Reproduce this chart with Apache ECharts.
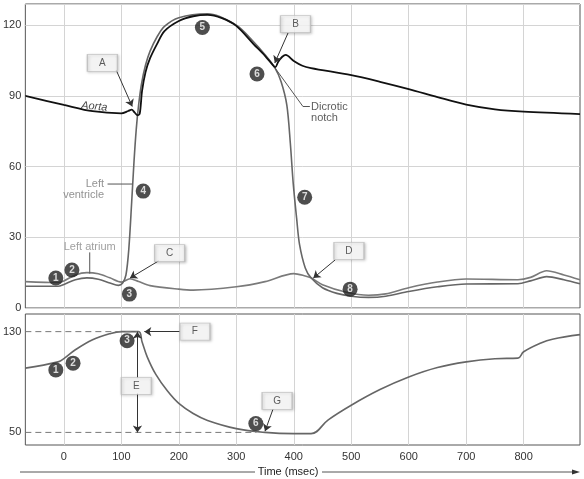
<!DOCTYPE html>
<html><head><meta charset="utf-8">
<script src="https://cdn.jsdelivr.net/npm/echarts@6/dist/echarts.min.js"></script>
<style>html,body{margin:0;padding:0;background:#fff}#c{width:584px;height:479px}</style>
</head><body><div id="c"></div>
<script>
// ---- data ----
const xTicks = [0,100,200,300,400,500,600,700,800];
const aorta = [[-67,90],[0,86.2],[50,83.5],[100,82.6],[112,83.6],[118,84.2],[123,83],[128,81.8],[132,82.5],[136,92],[142,100],[150,106],[162,112],[175,117.5],[200,121.8],[225,123.8],[250,124.4],[275,123],[300,119.7],[330,112],[350,107],[364,103],[368,102.2],[373,104.5],[380,106.6],[386,107.4],[400,104.8],[415,102.8],[430,101.8],[500,98.8],[550,96],[600,92.9],[650,89.5],[700,86.3],[750,84.3],[800,83.3],[898,82.3]];
const ventricle = [[-67,9.2],[-10,9.2],[0,10],[20,12],[40,12.8],[60,12.2],[80,10.6],[95,9.6],[102,10.5],[108,14],[113,25],[118,45],[122,62],[126,76],[130,86],[135,95],[142,103],[150,109],[162,115],[175,119.5],[200,123.2],[250,124.8],[300,120],[330,113],[350,107.5],[367,102],[378,96],[388,86],[394,70],[399,53],[405,38],[410,27],[420,17],[430,12.8],[450,8.6],[475,6.2],[500,5],[530,4.5],[560,5],[600,7],[650,9],[700,10.2],[790,10.3],[812,11.5],[840,13.3],[870,12],[898,10.3]];
const atrium = [[-67,11.2],[-10,10.8],[0,11.5],[20,14],[40,15],[60,14.5],[80,12.8],[100,11],[115,12.4],[130,11.2],[150,9.5],[200,8],[225,7.6],[300,9],[350,11.2],[400,14.6],[420,13.6],[430,12.8],[450,9.9],[490,6.8],[530,5.4],[560,6],[600,8.6],[650,11],[700,12.3],[790,12],[812,13],[840,15.8],[870,14],[898,12]];
const volume = [[-67,101],[-10,106],[0,108.5],[20,115.6],[50,123.6],[80,128.4],[100,130],[130,130],[136,122],[145,110],[160,96],[180,83],[200,73],[225,65],[250,59.5],[300,53],[350,50],[400,49],[430,49],[460,60],[500,71.6],[550,84],[600,94],[650,101.5],[700,106],[750,108.5],[790,109],[800,114],[830,121],[850,124],[898,127.6]];
const topCircles = [[-14,12.7,'1'],[14,16.1,'2'],[114,5.9,'3'],[138,49.6,'4'],[241,119,'5'],[336,99.3,'6'],[419,47,'7'],[498,8,'8']];
const botCircles = [[-14,99.6,'1'],[16,105,'2'],[110,122.8,'3'],[334,57,'6']];
const topBoxes = [[67,104,'A'],[403,120.5,'B'],[184,23.3,'C'],[496,24.2,'D']];
const botBoxes = [[228,130,'F'],[126,87,'E'],[371,75,'G']];
const topArrows = [[[91,101],[119,85.5]],[[390,116.7],[367,104]],[[165,20],[115,12.7]],[[472,20.4],[434,12.7]]];
const topLeaders = [[[367,102],[416,85.5],[428,85.5]],[[76,52.6],[119,52.6]],[[45,23.6],[45,14.6]]];
const botArrows = [[[202,130],[140,130]],[[364,68.6],[350,51]],[[128,93],[128,130]],[[128,81],[128,50]]];
const dashes = [[[-67,130],[130,130]],[[-67,50],[335,50]]];
const texts = [
 [53,85.5,'Aorta','aorta'],[70,52.6,'Left','lvr'],[70,48,'ventricle','lvr'],[45,25.8,'Left atrium','la'],
 [430,85.5,'Dicrotic','dn'],[430,80.8,'notch','dn']];

const chart = echarts.init(document.getElementById('c'));
const gridLine = {show:true,lineStyle:{color:'#d4d4d4',width:1}};
const F = 'Liberation Sans, Arial, sans-serif';
function lineS(data,color,w,xi,sm){return {type:'line',xAxisIndex:xi,yAxisIndex:xi,data,showSymbol:false,smooth:sm||0.3,lineStyle:{color,width:w},z:5,silent:true};}
function circles(data,xi){return {type:'scatter',xAxisIndex:xi,yAxisIndex:xi,data,symbolSize:15,itemStyle:{color:'#222'},z:10,
 label:{show:true,position:'inside',formatter:p=>p.data[2],color:'#fff',fontWeight:'bold',fontSize:10,fontFamily:F}};}
function boxes(data,xi){return {type:'scatter',xAxisIndex:xi,yAxisIndex:xi,data,symbol:'rect',symbolSize:[30,17],
 itemStyle:{color:'#fff',borderColor:'#bbb',borderWidth:1,shadowColor:'rgba(0,0,0,0.3)',shadowBlur:3,shadowOffsetX:1,shadowOffsetY:1},z:10,
 label:{show:true,position:'inside',formatter:p=>p.data[2],color:'#333',fontSize:10,fontFamily:F}};}
function lns(data,xi,arrow,color,dash){return {type:'lines',coordinateSystem:'cartesian2d',xAxisIndex:xi,yAxisIndex:xi,polyline:!arrow,
 data:data.map(c=>({coords:c})),symbol:arrow?['none','arrow']:['none','none'],symbolSize:7,
 lineStyle:{color,width:1,type:dash?[6,4]:'solid',opacity:1},z:8,silent:true};}
const styles = {aorta:{color:'#111',fontStyle:'italic',fontSize:11,align:'center',rotate:-5},
 lvr:{color:'#777',fontSize:11,align:'right'},la:{color:'#888',fontSize:11,align:'center'},dn:{color:'#333',fontSize:11,align:'left'}};
const textSeries = {type:'scatter',xAxisIndex:0,yAxisIndex:0,symbolSize:0,z:11,silent:true,
 data:texts.map(t=>({value:[t[0],t[1]],label:Object.assign({show:true,position:'inside',formatter:t[2],fontFamily:F},styles[t[3]])}))};

chart.setOption({
 animation:false,
 grid:[{left:20,right:4,top:4,height:304,show:true,borderColor:'#555',borderWidth:1},
       {left:20,right:4,top:314,height:131,show:true,borderColor:'#555',borderWidth:1}],
 xAxis:[0,1].map(i=>({type:'value',gridIndex:i,min:-67,max:898,
   axisLine:{show:false},axisTick:{show:false,customValues:xTicks},splitLine:gridLine,
   axisLabel:{show:i===1,customValues:xTicks,color:'#333',fontSize:11,fontFamily:F,margin:6}})),
 yAxis:[{type:'value',gridIndex:0,min:0,max:129,interval:30,axisLine:{show:false},axisTick:{show:false},splitLine:gridLine,
   axisLabel:{color:'#333',fontSize:11,fontFamily:F,showMaxLabel:false,margin:4}},
  {type:'value',gridIndex:1,min:40,max:144,axisLine:{show:false},axisTick:{show:false,customValues:[50,130]},splitLine:{show:false},
   axisLabel:{color:'#333',fontSize:11,fontFamily:F,customValues:[50,130],margin:4}}],
 series:[
  lineS(atrium,'#7a7a7a',1.6,0), lineS(ventricle,'#666',1.6,0), lineS(aorta,'#111',1.8,0),
  lineS(volume,'#666',1.6,1,0.4),
  lns(dashes,1,false,'#777',true),
  lns(topArrows,0,true,'#333'), lns(topLeaders,0,false,'#555'), lns(botArrows,1,true,'#333'),
  circles(topCircles,0), circles(botCircles,1), boxes(topBoxes,0), boxes(botBoxes,1), textSeries
 ],
 graphic:[
  {type:'line',shape:{x1:20,y1:472,x2:255,y2:472},style:{stroke:'#555',lineWidth:1}},
  {type:'text',x:288,y:472,style:{text:'Time (msec)',fontSize:11,fontFamily:F,fill:'#222',align:'center',verticalAlign:'middle'}},
  {type:'line',shape:{x1:322,y1:472,x2:574,y2:472},style:{stroke:'#555',lineWidth:1}},
  {type:'polygon',shape:{points:[[580,472],[572,469.5],[572,474.5]]},style:{fill:'#333'}}
 ]
});
</script></body></html>
